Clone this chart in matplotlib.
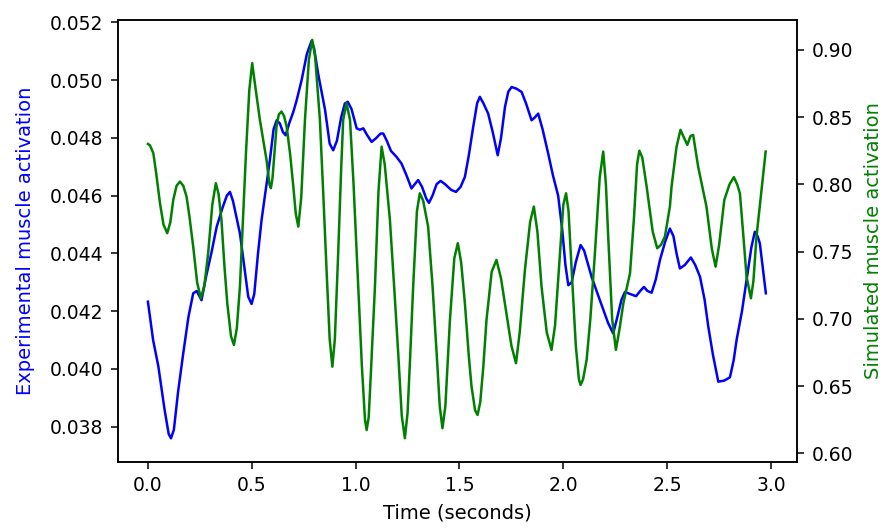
import numpy as np
import matplotlib.pyplot as plt

# experimental activation (left axis)
exp_t = [0.000, 0.025, 0.050, 0.080, 0.100, 0.111, 0.125, 0.145, 0.170, 0.195,
         0.218, 0.235, 0.258, 0.280, 0.305, 0.331, 0.360, 0.380, 0.395, 0.410,
         0.425, 0.443, 0.465, 0.483, 0.499, 0.512, 0.530, 0.547, 0.567, 0.587,
         0.605, 0.620, 0.635, 0.650, 0.663, 0.680, 0.700, 0.716, 0.740, 0.765,
         0.788, 0.800, 0.820, 0.853, 0.875, 0.892, 0.910, 0.930, 0.948, 0.962,
         0.980, 1.005, 1.020, 1.037, 1.055, 1.077, 1.100, 1.120, 1.133, 1.150,
         1.170, 1.197, 1.221, 1.245, 1.269, 1.285, 1.301, 1.320, 1.340, 1.353,
         1.370, 1.390, 1.409, 1.430, 1.460, 1.483, 1.505, 1.526, 1.545, 1.566,
         1.585, 1.598, 1.615, 1.638, 1.660, 1.684, 1.700, 1.719, 1.735, 1.751,
         1.775, 1.799, 1.820, 1.847, 1.862, 1.879, 1.900, 1.927, 1.950, 1.975,
         1.995, 2.010, 2.024, 2.040, 2.060, 2.083, 2.100, 2.120, 2.136, 2.160,
         2.190, 2.215, 2.240, 2.260, 2.280, 2.297, 2.320, 2.350, 2.370, 2.388,
         2.405, 2.425, 2.445, 2.465, 2.490, 2.513, 2.530, 2.545, 2.561, 2.585,
         2.614, 2.635, 2.658, 2.680, 2.698, 2.720, 2.746, 2.775, 2.802, 2.820,
         2.834, 2.860, 2.882, 2.905, 2.922, 2.935, 2.946, 2.960, 2.975]
exp_act = [0.04233, 0.04100, 0.04010, 0.03860, 0.03775, 0.03760, 0.03790, 0.03920, 0.04054, 0.04180,
           0.04262, 0.04270, 0.04238, 0.04320, 0.04400, 0.04492, 0.04560, 0.04600, 0.04613, 0.04580,
           0.04530, 0.04469, 0.04350, 0.04250, 0.04225, 0.04260, 0.04400, 0.04515, 0.04620, 0.04723,
           0.04830, 0.04861, 0.04850, 0.04820, 0.04809, 0.04850, 0.04890, 0.04930, 0.05000, 0.05090,
           0.05136, 0.05110, 0.05020, 0.04896, 0.04780, 0.04757, 0.04790, 0.04870, 0.04919, 0.04925,
           0.04900, 0.04833, 0.04828, 0.04833, 0.04810, 0.04786, 0.04800, 0.04815, 0.04815, 0.04790,
           0.04755, 0.04734, 0.04711, 0.04670, 0.04625, 0.04640, 0.04654, 0.04630, 0.04590, 0.04575,
           0.04600, 0.04640, 0.04651, 0.04640, 0.04620, 0.04613, 0.04630, 0.04665, 0.04740, 0.04838,
           0.04920, 0.04942, 0.04920, 0.04884, 0.04820, 0.04740, 0.04800, 0.04907, 0.04960, 0.04976,
           0.04970, 0.04959, 0.04920, 0.04861, 0.04870, 0.04884, 0.04830, 0.04746, 0.04670, 0.04600,
           0.04480, 0.04360, 0.04290, 0.04300, 0.04370, 0.04429, 0.04410, 0.04360, 0.04319, 0.04270,
           0.04210, 0.04160, 0.04123, 0.04180, 0.04240, 0.04267, 0.04260, 0.04252, 0.04270, 0.04284,
           0.04270, 0.04264, 0.04310, 0.04377, 0.04440, 0.04486, 0.04460, 0.04400, 0.04348, 0.04360,
           0.04386, 0.04360, 0.04319, 0.04240, 0.04146, 0.04050, 0.03956, 0.03960, 0.03971, 0.04030,
           0.04100, 0.04200, 0.04308, 0.04420, 0.04475, 0.04460, 0.04435, 0.04350, 0.04262]

# simulated activation (right axis)
sim_t = [0.000, 0.010, 0.026, 0.040, 0.058, 0.075, 0.093, 0.108, 0.122, 0.138,
         0.154, 0.170, 0.186, 0.200, 0.218, 0.237, 0.255, 0.272, 0.290, 0.310,
         0.327, 0.340, 0.354, 0.368, 0.382, 0.400, 0.414, 0.428, 0.443, 0.458,
         0.472, 0.488, 0.502, 0.515, 0.539, 0.571, 0.585, 0.592, 0.600, 0.619,
         0.630, 0.643, 0.655, 0.668, 0.685, 0.700, 0.712, 0.724, 0.738, 0.756,
         0.775, 0.791, 0.805, 0.828, 0.845, 0.860, 0.875, 0.888, 0.900, 0.916,
         0.930, 0.940, 0.956, 0.973, 0.990, 1.005, 1.030, 1.045, 1.053, 1.063,
         1.075, 1.093, 1.110, 1.125, 1.140, 1.165, 1.185, 1.205, 1.222, 1.237,
         1.250, 1.262, 1.277, 1.295, 1.309, 1.325, 1.349, 1.370, 1.390, 1.405,
         1.418, 1.432, 1.454, 1.475, 1.492, 1.508, 1.526, 1.545, 1.558, 1.575,
         1.587, 1.600, 1.615, 1.630, 1.655, 1.678, 1.700, 1.726, 1.750, 1.772,
         1.790, 1.815, 1.840, 1.858, 1.875, 1.895, 1.920, 1.943, 1.960, 1.984,
         2.000, 2.013, 2.025, 2.040, 2.060, 2.075, 2.083, 2.095, 2.112, 2.130,
         2.152, 2.175, 2.192, 2.205, 2.216, 2.235, 2.253, 2.270, 2.289, 2.321,
         2.340, 2.355, 2.366, 2.380, 2.401, 2.430, 2.452, 2.470, 2.489, 2.513,
         2.521, 2.545, 2.564, 2.580, 2.597, 2.612, 2.625, 2.649, 2.689, 2.715,
         2.733, 2.750, 2.775, 2.800, 2.821, 2.837, 2.850, 2.865, 2.882, 2.903,
         2.915, 2.930, 2.950, 2.974]
sim_act = [0.8301, 0.8290, 0.8232, 0.8080, 0.7860, 0.7700, 0.7637, 0.7720, 0.7885, 0.7990,
           0.8021, 0.7990, 0.7909, 0.7760, 0.7537, 0.7270, 0.7153, 0.7250, 0.7488, 0.7850,
           0.8009, 0.7930, 0.7736, 0.7400, 0.7116, 0.6870, 0.6806, 0.6930, 0.7240, 0.7750,
           0.8232, 0.8700, 0.8902, 0.8750, 0.8480, 0.8182, 0.8000, 0.7972, 0.8050, 0.8430,
           0.8520, 0.8542, 0.8510, 0.8430, 0.8220, 0.7984, 0.7780, 0.7686, 0.7900, 0.8480,
           0.8930, 0.9075, 0.8950, 0.8480, 0.7900, 0.7364, 0.6850, 0.6644, 0.6850, 0.7488,
           0.8100, 0.8480, 0.8604, 0.8480, 0.8000, 0.7488, 0.6650, 0.6250, 0.6173, 0.6270,
           0.6650, 0.7240, 0.7950, 0.8281, 0.8150, 0.7736, 0.7250, 0.6744, 0.6280, 0.6112,
           0.6300, 0.6700, 0.7240, 0.7800, 0.7934, 0.7880, 0.7686, 0.7250, 0.6744, 0.6350,
           0.6186, 0.6350, 0.6992, 0.7450, 0.7563, 0.7420, 0.7116, 0.6720, 0.6496, 0.6320,
           0.6285, 0.6380, 0.6650, 0.6992, 0.7350, 0.7438, 0.7300, 0.7042, 0.6800, 0.6670,
           0.6900, 0.7364, 0.7720, 0.7835, 0.7650, 0.7240, 0.6900, 0.6769, 0.6950, 0.7488,
           0.7850, 0.7934, 0.7800, 0.7364, 0.6800, 0.6550, 0.6508, 0.6550, 0.6694, 0.7000,
           0.7488, 0.8050, 0.8244, 0.8000, 0.7612, 0.7000, 0.6769, 0.6920, 0.7116, 0.7339,
           0.7750, 0.8150, 0.8251, 0.8200, 0.7984, 0.7650, 0.7525, 0.7550, 0.7612, 0.7835,
           0.7984, 0.8280, 0.8406, 0.8350, 0.8294, 0.8360, 0.8368, 0.8132, 0.7835, 0.7520,
           0.7388, 0.7550, 0.7885, 0.8000, 0.8054, 0.8000, 0.7934, 0.7650, 0.7314, 0.7153,
           0.7280, 0.7612, 0.7900, 0.8244]

plt.rcParams['font.size'] = 14
plt.rcParams['xtick.labelsize'] = 13.5
plt.rcParams['ytick.labelsize'] = 13.5
plt.rcParams['xtick.major.size'] = 5
plt.rcParams['ytick.major.size'] = 5
plt.rcParams['xtick.major.pad'] = 5.5
plt.rcParams['ytick.major.pad'] = 5.5
plt.rcParams['xtick.major.width'] = 1.1
plt.rcParams['ytick.major.width'] = 1.1
plt.rcParams['axes.linewidth'] = 1.1

fig = plt.figure(figsize=(8.84, 5.32), dpi=100)
ax1 = fig.add_axes([0.1335, 0.1321, 0.7681, 0.8303])
ax1.plot(exp_t, exp_act, color='b', lw=1.8)
ax1.set_xlim(-0.144, 3.125)
ax1.set_ylim(0.03679, 0.05208)
ax1.set_xlabel('Time (seconds)', labelpad=6)
ax1.set_ylabel('Experimental muscle activation', color='b', labelpad=11)

ax2 = ax1.twinx()
ax2.plot(sim_t, sim_act, color='g', lw=1.8)
ax2.set_ylim(0.5937, 0.9223)
ax2.set_ylabel('Simulated muscle activation', color='g', labelpad=8)

fig.savefig('out.png', dpi=100)
